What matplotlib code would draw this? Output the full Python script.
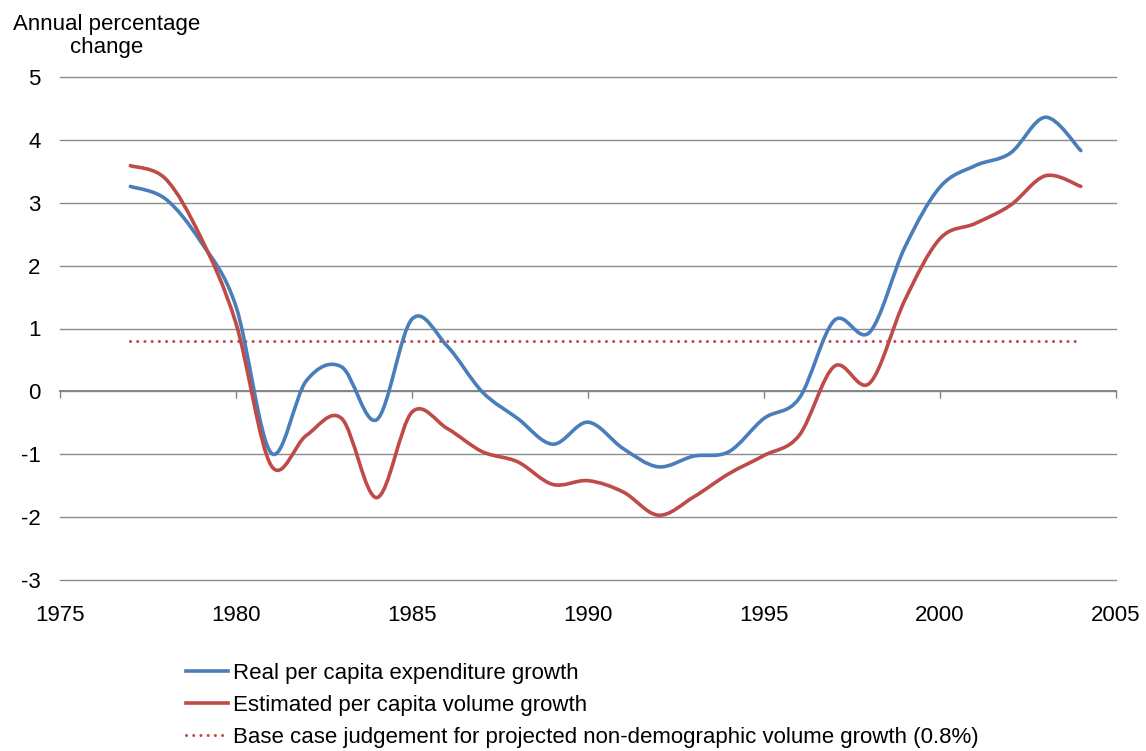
import numpy as np
import matplotlib
matplotlib.use("Agg")
import matplotlib.pyplot as plt
from matplotlib.path import Path
from matplotlib.patches import PathPatch
from matplotlib.lines import Line2D

plt.rcParams['font.family'] = ['Liberation Sans', 'DejaVu Sans']

years = list(range(1977, 2005))
real_exp = [3.26, 3.06, 2.38, 1.35, -0.98, 0.17, 0.39, -0.45, 1.15, 0.72,
            -0.01, -0.43, -0.84, -0.49, -0.91, -1.20, -1.03, -0.96, -0.43, -0.11,
            1.13, 0.94, 2.29, 3.25, 3.59, 3.79, 4.36, 3.83]
est_vol = [3.59, 3.38, 2.45, 1.08, -1.18, -0.70, -0.43, -1.69, -0.33, -0.59,
           -0.96, -1.12, -1.48, -1.42, -1.60, -1.97, -1.68, -1.31, -1.02, -0.70,
           0.40, 0.13, 1.45, 2.43, 2.67, 2.96, 3.43, 3.26]
base_case = 0.8
labels = ["Real per capita expenditure growth",
          "Estimated per capita volume growth",
          "Base case judgement for projected non-demographic volume growth (0.8%)"]
xticks = [1975, 1980, 1985, 1990, 1995, 2000, 2005]
yticks = [-3, -2, -1, 0, 1, 2, 3, 4, 5]

BLUE = '#4A7EBB'
RED = '#BE4B48'
DOT = (0, (0.01, 2.35))


def smooth_path(xs, ys):
    """Excel-style smoothed line: cubic Bezier through every data point."""
    pts = np.column_stack([xs, ys]).astype(float)
    n = len(pts)
    verts = [pts[0]]
    codes = [Path.MOVETO]
    for i in range(n - 1):
        p0 = pts[i - 1] if i > 0 else pts[i]
        p1 = pts[i]
        p2 = pts[i + 1]
        p3 = pts[i + 2] if i + 2 < n else pts[i + 1]
        c1 = p1 + (p2 - p0) / 6.0
        c2 = p2 - (p3 - p1) / 6.0
        verts += [c1, c2, p2]
        codes += [Path.CURVE4] * 3
    return Path(verts, codes)


fig = plt.figure(figsize=(11.46, 7.51), dpi=100)
ax = fig.add_axes([60 / 1146, 1 - 580 / 751, (1116 - 60) / 1146, (580 - 77) / 751])

ax.set_xlim(1975, 2005)
ax.set_ylim(-3, 5)

for s in ['top', 'right', 'left']:
    ax.spines[s].set_visible(False)
ax.spines['bottom'].set_position(('data', 0))
ax.spines['bottom'].set_color('#858585')
ax.spines['bottom'].set_linewidth(1.4)

ax.set_yticks(yticks)
ax.set_yticklabels([str(v) for v in yticks])
ax.yaxis.grid(True, color='#8C8C8C', linewidth=1.0)
for gl in ax.get_ygridlines():
    gl.set_clip_on(False)
ax.set_axisbelow(True)
ax.tick_params(axis='y', length=0, pad=14, labelsize=16)

ax.set_xticks(xticks)
ax.tick_params(axis='x', direction='out', length=5, width=1, color='#858585',
               labelbottom=False)

sec = ax.secondary_xaxis('bottom')
sec.set_xticks(xticks)
sec.set_xticklabels([str(v) for v in xticks])
sec.tick_params(length=0, pad=18, labelsize=16)
sec.spines['bottom'].set_visible(False)

for ys, col in [(real_exp, BLUE), (est_vol, RED)]:
    patch = PathPatch(smooth_path(years, ys), facecolor='none', edgecolor=col,
                      linewidth=2.6, capstyle='round', joinstyle='round', zorder=3)
    ax.add_patch(patch)

ax.plot([years[0], years[-1]], [base_case, base_case], color=RED,
        linewidth=2.2, linestyle=DOT, dash_capstyle='round', zorder=2)

fig.text(107 / 1146, 1 - 30 / 751, "Annual percentage", ha='center', va='baseline',
         fontsize=16)
fig.text(107 / 1146, 1 - 53 / 751, "change", ha='center', va='baseline',
         fontsize=16)

handles = [Line2D([], [], color=BLUE, linewidth=2.6),
           Line2D([], [], color=RED, linewidth=2.6),
           Line2D([], [], color=RED, linewidth=2.2, linestyle=DOT,
                  dash_capstyle='round')]
fig.legend(handles, labels, loc='upper left', bbox_to_anchor=(186 / 1146, 1 - 663 / 751),
           frameon=False, fontsize=16, handlelength=1.9, handletextpad=0.23,
           labelspacing=0.5, borderpad=0, borderaxespad=0)

fig.savefig('out.png', dpi=100)
